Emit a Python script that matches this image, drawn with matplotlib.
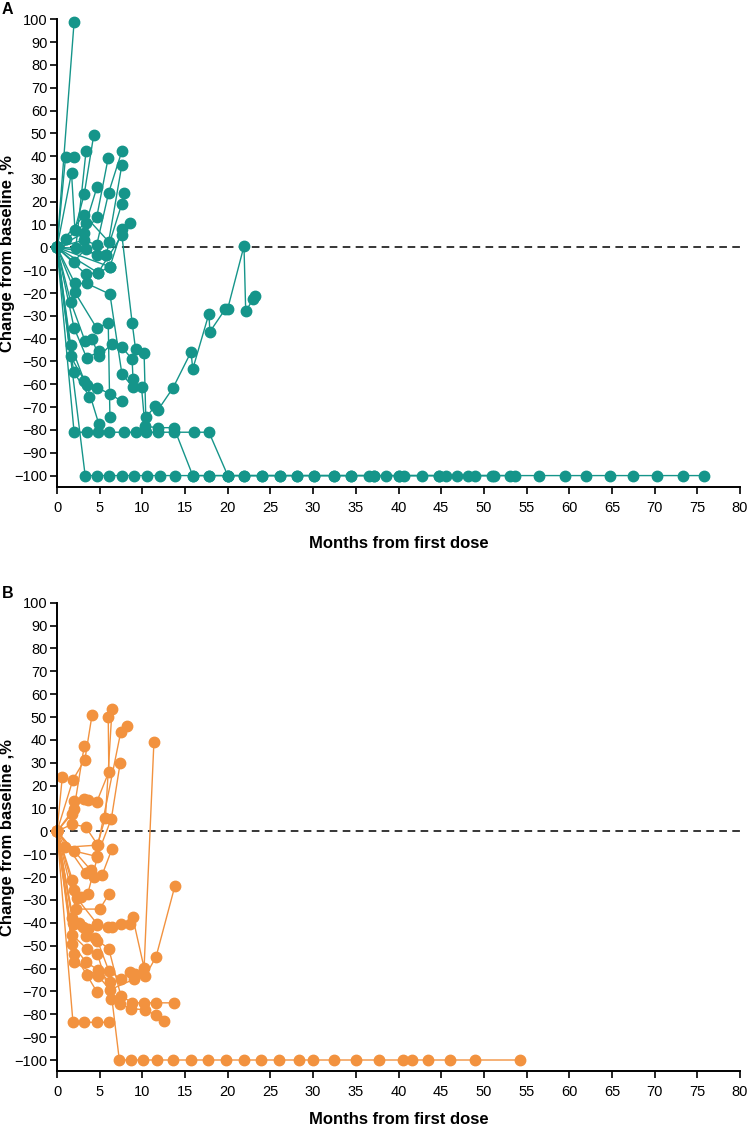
import matplotlib
matplotlib.use("Agg")
import matplotlib.pyplot as plt

plt.rcParams['font.family'] = ['Liberation Sans', 'DejaVu Sans']

# Panel A data: each patient is (months, % change)
a_months = [
    [0, 2.0],
    [0, 1.0, 2.0],
    [0, 1.7, 2.1, 3.2, 4.3],
    [0, 2.2, 3.4],
    [0, 1.1, 3.4, 4.7],
    [0, 3.2, 4.65, 6.0],
    [0, 3.2, 4.65, 6.05, 7.6],
    [0, 3.2, 6.05, 7.6],
    [0, 5.7, 7.6, 7.9],
    [0, 6.2, 7.6, 8.5],
    [0, 4.8, 7.6, 8.8, 9.2, 10.2, 10.4, 11.5, 11.8, 13.6, 15.7, 15.9, 17.8, 17.9, 19.7, 20.0, 21.9, 22.1, 23.0, 23.2],
    [0, 1.95, 3.35, 4.67, 5.7],
    [0, 3.35, 4.8, 6.2],
    [0, 2.1, 3.5, 6.2, 7.6, 8.9, 9.9, 10.3, 11.8, 13.7, 15.9, 17.8, 20.0, 24.0, 28.1, 32.4, 37.1, 40.0, 44.7, 46.8, 51.2],
    [0, 2.1, 4.67, 6.0, 6.2],
    [0, 1.6, 3.3, 4.1, 4.9, 6.4, 7.6, 8.8, 8.9],
    [0, 2.0, 3.5, 4.9],
    [0, 1.6, 3.2, 4.7, 6.2, 7.6],
    [0, 1.6, 3.5, 4.9],
    [0, 1.95, 3.8],
    [0, 2.0, 3.5, 4.8, 6.1, 7.8, 9.3, 10.4, 11.8, 13.7, 16.0, 17.8, 20.0, 21.9, 26.1, 30.1, 34.4, 37.1, 40.0, 44.7, 48.9, 53.1],
    [0, 3.3, 4.7, 6.1, 7.6, 9.0, 10.5, 12.1, 13.8, 15.9, 17.8, 20.0, 21.9, 24.0, 26.1, 28.1, 30.1, 32.4, 34.4,
     36.6, 38.5, 40.7, 42.8, 45.6, 48.1, 50.9, 53.6, 56.5, 59.5, 62.0, 64.8, 67.5, 70.3, 73.3, 75.8],
]
a_change = [
    [0, 98.7],
    [0, 39.5, 39.5],
    [0, 32.7, 7.8, 23.6, 49.2],
    [0, -0.3, 42.2],
    [0, 3.6, 10.8, 26.6],
    [0, 6.4, 13.2, 39.3],
    [0, 3.2, 1.0, 24.0, 42.2],
    [0, 14.2, 2.5, 36.2],
    [0, -3.4, 19.2, 23.8],
    [0, -8.5, 7.9, 10.7],
    [0, -11.1, 5.3, -33, -44.6, -46.1, -74.5, -69.6, -71.4, -61.5, -45.8, -53.3, -29, -37, -27.1, -26.8, 0.6, -27.8, -22.7, -21.5],
    [0, -6.3, -0.7, -3.4, -3.4],
    [0, -11.7, -11.1, -8.5],
    [0, -15.8, -15.8, -20.5, -55.4, -61.3, -61.3, -78.4, -79, -79, -100, -100, -100, -100, -100, -100, -100, -100, -100, -100, -100],
    [0, -19.7, -35.5, -33, -74.5],
    [0, -23.8, -41.2, -40, -47.7, -42.4, -43.7, -49, -57.7],
    [0, -35.3, -48.6, -45.5],
    [0, -42.8, -58.4, -61.5, -64.2, -67.5],
    [0, -47.8, -60.3, -77.4],
    [0, -54.5, -65.4],
    [0, -81, -81, -81, -81, -81, -81, -81, -81, -81, -81, -81, -100, -100, -100, -100, -100, -100, -100, -100, -100, -100],
    [0] + [-100] * 34,
]

# Panel B data
b_months = [
    [0, 0.62],
    [0, 1.87, 3.27, 4.1],
    [0, 2.0, 3.2],
    [0, 1.75, 2.0, 3.2, 3.65, 4.67, 6.07, 6.0],
    [0, 1.75, 3.34, 4.74, 5.67, 6.45],
    [0, 2.0, 4.67, 6.37, 7.4],
    [0, 0.9, 4.8, 7.47, 8.17],
    [0, 3.4, 5.3, 6.45],
    [0, 4.0, 4.36],
    [0, 2.0, 2.8, 3.6, 4.74],
    [0, 1.8, 2.3, 4.74, 6.0, 7.47, 8.6, 8.85, 10.2, 11.35],
    [0, 2.2, 5.0, 6.07],
    [0, 1.8, 3.1, 4.45, 6.07, 7.47, 8.8, 10.2, 11.6, 13.7],
    [0, 1.87, 2.6, 3.6, 4.74, 6.07, 7.5, 8.6, 9.1, 10.35, 11.6, 13.8],
    [0, 1.8, 3.5, 4.74, 6.35, 7.4, 8.7, 10.35, 11.6, 12.5],
    [0, 1.8, 3.4, 4.8, 6.2, 7.3, 8.7, 10.1, 11.7, 13.6, 15.7, 17.7, 19.8, 21.9, 23.9, 26.0, 28.3, 30.0,
     32.4, 35.0, 37.7, 40.5, 41.6, 43.5, 46.0, 48.9, 54.2],
    [0, 2.0, 3.5, 4.67],
    [0, 2.0, 4.8, 6.2, 9.0],
    [0, 1.87, 3.2, 4.67, 6.07],
    [0, 2.0, 3.34, 4.74, 6.45],
]
b_change = [
    [0, 23.8],
    [0, 22.6, 31.4, 50.8],
    [0, 9.9, 37.5],
    [0, 7.7, 13.1, 14.0, 13.9, 13.0, 26.0, 50.0],
    [0, 3.1, 2.0, -5.8, 6.0, 53.7],
    [0, -8.6, -11.0, 5.6, 29.9],
    [0, -7.0, -6.0, 43.5, 46.0],
    [0, -18.4, -18.9, -7.6],
    [0, -17.1, -20.0],
    [0, -25.8, -28.5, -27.3, -11.2],
    [0, -21.2, -29.1, -40.7, -41.9, -40.5, -40.4, -37.3, -59.7, 39.0],
    [0, -34.0, -34.0, -27.6],
    [0, -38.0, -42.0, -46.7, -51.4, -71.8, -75.0, -75.0, -75.0, -75.0],
    [0, -40.0, -40.2, -42.8, -47.8, -61.0, -64.7, -61.7, -62.3, -63.2, -54.9, -24.0],
    [0, -45.3, -51.4, -53.6, -73.3, -75.4, -77.6, -78.0, -80.5, -82.9],
    [0, -49.2, -57.3, -60.5, -66.1] + [-100] * 22,
    [0, -53.6, -62.8, -70.2],
    [0, -57.3, -63.1, -69.3, -64.7],
    [0, -83.5, -83.5, -83.5, -83.5],
    [0, -40.5, -45.6, -41.0, -42.0],
]

x_ticks = list(range(0, 81, 5))
y_ticks = list(range(-100, 101, 10))


def draw_panel(ax, months, change, color, letter, xlabel_y):
    for m, c in zip(months, change):
        ax.plot(m, c, '-o', color=color, lw=1.0, ms=7.5, mec=color, clip_on=False)
    ax.axhline(0, color='black', ls=(0, (5, 3.5)), lw=1.1, zorder=0)
    ax.set_xlim(0, 80)
    ax.set_ylim(-105, 100)
    ax.set_xticks(x_ticks)
    ax.set_yticks(y_ticks)
    ax.spines['top'].set_visible(False)
    ax.spines['right'].set_visible(False)
    ax.spines['left'].set_linewidth(1.4)
    ax.spines['bottom'].set_linewidth(1.4)
    ax.spines['left'].set_bounds(-105, 100)
    ax.tick_params(direction='out', length=5, width=1.2, labelsize=10.5)
    ax.tick_params(axis='x', pad=5)
    ax.tick_params(axis='y', pad=2)
    ax.set_ylabel('Change from baseline ,%', fontsize=12, fontweight='bold')
    ax.yaxis.set_label_coords(-0.061, 0.5)
    ax.set_xlabel('Months from first dose', fontsize=12, fontweight='bold')
    ax.xaxis.set_label_coords(0.5, xlabel_y)
    ax.text(-0.072, 1.02, letter, transform=ax.transAxes, fontsize=11.5,
            fontweight='bold', ha='center', va='center')


fig = plt.figure(figsize=(7.51, 11.32), dpi=100)
ax1 = fig.add_axes([0.0759, 0.5698, 0.9095, 0.4132])
ax2 = fig.add_axes([0.0759, 0.0535, 0.9095, 0.4141])

draw_panel(ax1, a_months, a_change, '#15958a', 'A', -0.105)
draw_panel(ax2, b_months, b_change, '#f2923f', 'B', -0.087)

fig.savefig('out.png', dpi=100)
